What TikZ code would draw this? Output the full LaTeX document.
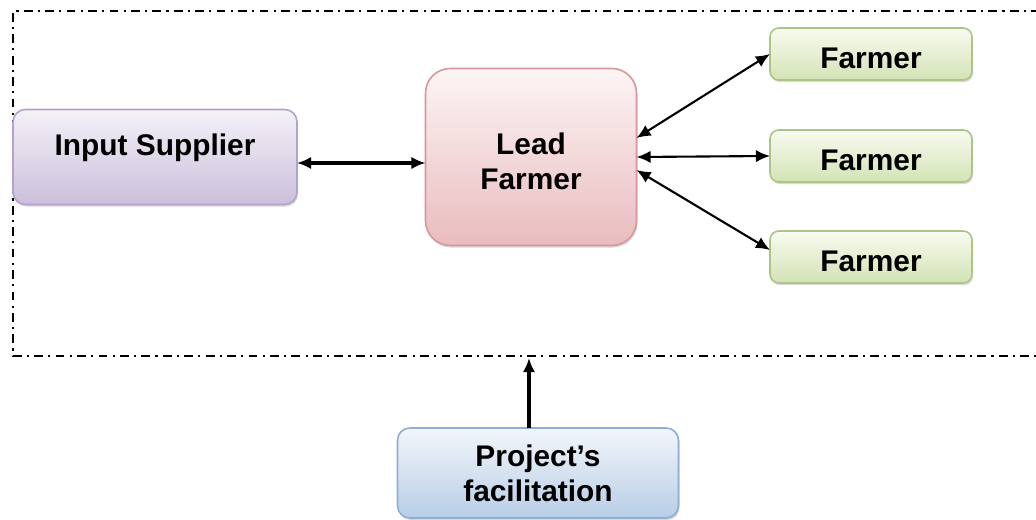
\documentclass[tikz,border=0pt]{standalone}
\usepackage{fontspec}
\setmainfont{Liberation Sans}
\usetikzlibrary{arrows.meta, positioning, shadows}

\definecolor{supTop}{HTML}{F4F1F8}
\definecolor{supBot}{HTML}{CBBFDB}
\definecolor{supLine}{HTML}{B3A2C9}
\definecolor{leadTop}{HTML}{FDF5F5}
\definecolor{leadBot}{HTML}{E9BCBE}
\definecolor{leadLine}{HTML}{D8979B}
\definecolor{farmTop}{HTML}{F8FBF0}
\definecolor{farmBot}{HTML}{D3E3B5}
\definecolor{farmLine}{HTML}{AAC584}
\definecolor{facTop}{HTML}{F2F6FB}
\definecolor{facBot}{HTML}{B8CDE6}
\definecolor{facLine}{HTML}{8EAED3}

\begin{document}
\begin{tikzpicture}[x=0.02cm, y=-0.02cm,
  every node/.style={font=\bfseries\fontsize{17}{20}\selectfont, align=center, inner sep=0pt, outer sep=0pt},
  box/.style={draw, line width=0.9pt, rounded corners=7pt,
    drop shadow={opacity=0.3, shadow xshift=0.6pt, shadow yshift=-1.2pt}},
  supbox/.style={box, draw=supLine, top color=supTop, bottom color=supBot},
  leadbox/.style={box, draw=leadLine, top color=leadTop, bottom color=leadBot, rounded corners=14pt},
  farmbox/.style={box, draw=farmLine, top color=farmTop, bottom color=farmBot, rounded corners=5pt},
  facbox/.style={box, draw=facLine, top color=facTop, bottom color=facBot},
  link/.style={line width=1.2pt, {Latex[length=8pt,width=7pt]}-{Latex[length=8pt,width=7pt]}},
  biglink/.style={line width=2pt, {Latex[length=8pt,width=7pt]}-{Latex[length=8pt,width=7pt]}},
  uplink/.style={line width=2pt, -{Latex[length=8pt,width=7pt]}}]

\useasboundingbox (0,0) rectangle (1036,520);

% Dashed frame (open on the right)
\draw[line width=1.3pt, dash pattern=on 5pt off 3pt on 1.2pt off 3pt]
  (1040,11) -- (13,11) -- (13,356) -- (1040,356);

% Boxes
\node[supbox, minimum width=5.68cm, minimum height=1.9cm, text height=12.3pt, text depth=13.7pt] (sup) at (155,157) {Input Supplier};
\node[leadbox, minimum width=4.22cm, minimum height=3.54cm, text height=37pt, text depth=0pt] (lead) at (531,157) {Lead\\Farmer};

\node[farmbox, minimum width=4.04cm, minimum height=1.04cm, text height=17pt, text depth=0pt] (f1) at (871,54) {Farmer};
\node[farmbox, minimum width=4.04cm, minimum height=1.04cm, text height=17pt, text depth=0pt] (f2) at (871,156) {Farmer};
\node[farmbox, minimum width=4.04cm, minimum height=1.04cm, text height=17pt, text depth=0pt] (f3) at (871,257) {Farmer};

\node[facbox, minimum width=5.62cm, minimum height=1.8cm] (fac) at (538,473) {Project’s\\facilitation};

\coordinate (edge) at (529,358);

% Connectors
\draw[biglink] ([yshift=-0.12cm]sup.east) -- ([yshift=-0.12cm]lead.west);
\draw[link] ([yshift=0.38cm]lead.east) -- (f1.west);
\draw[link] (lead.east) -- (f2.west);
\draw[link] ([yshift=-0.26cm]lead.east) -- ([yshift=0.14cm]f3.west);
\draw[uplink] (fac.north -| edge) -- (edge);

\end{tikzpicture}
\end{document}
